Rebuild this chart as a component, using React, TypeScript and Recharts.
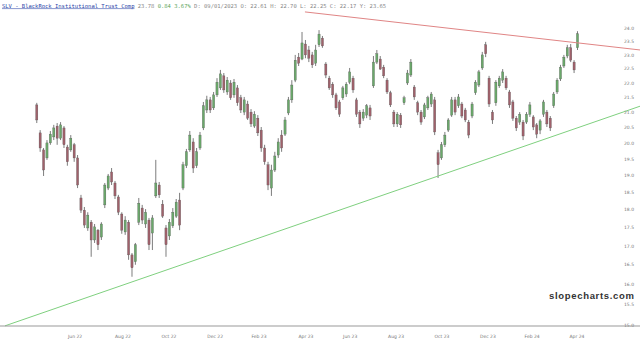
import { Bar, ComposedChart, ReferenceLine, XAxis, YAxis } from 'recharts'

// daily-ish candles, left to right
const opens = [
  21.25, 20.33, 19.79, 19.54, 20.01, 20.2, 20.55, 20.16, 20.49, 19.88,
  19.79, 19.95, 19.54, 18.34, 17.99, 17.49, 17.65, 17.16, 17.43, 17.24,
  18.14, 18.63, 19.11, 18.78, 18.37, 17.88, 17.38, 17.65, 16.76, 16.58,
  17.65, 18.05, 17.6, 17.71, 17.35, 18.4, 18.72, 18.16, 17.49, 17.27,
  17.55, 17.82, 18.28, 18.63, 19.3, 19.79, 20.04, 19.3, 19.85, 20.49,
  21.08, 21.42, 21.15, 21.59, 21.83, 22.25, 21.69, 22.0, 21.59, 21.83,
  21.49, 21.01, 21.28, 21.01, 20.55, 20.81, 20.42, 19.85, 19.33, 18.63,
  19.17, 19.63, 20.26, 20.29, 20.98, 21.42, 22.1, 22.92, 22.85, 23.4,
  23.18, 23.0, 22.7, 23.37, 23.62, 22.67, 22.17, 21.96, 21.59, 21.35,
  21.49, 21.62, 22.03, 22.17, 21.42, 21.01, 20.81, 20.91, 21.15, 21.9,
  22.74, 22.85, 22.56, 22.1, 21.66, 21.01, 20.62, 20.91, 21.32, 22.0,
  22.28, 21.86, 21.32, 21.01, 20.85, 21.15, 21.28, 21.42, 19.7, 19.54,
  19.95, 20.42, 20.91, 21.42, 21.22, 21.28, 21.08, 20.68, 20.88, 21.66,
  21.93, 22.53, 23.37, 22.17, 21.01, 21.32, 21.9, 22.1, 22.17, 21.69,
  21.35, 20.81, 20.68, 20.68, 20.68, 20.94, 20.85, 20.59, 20.42, 20.94,
  21.01, 20.81, 21.22, 21.69, 22.14, 22.6, 22.96, 23.26, 22.74, 23.26,
]
const highs = [
  21.32, 20.42, 19.85, 20.1, 20.39, 20.59, 20.65, 20.68, 20.55, 19.95,
  20.26, 20.01, 19.63, 18.43, 18.08, 17.93, 17.71, 17.6, 17.46, 17.65,
  18.78, 19.05, 19.23, 18.84, 18.43, 17.93, 17.82, 17.71, 16.81, 17.08,
  18.34, 18.14, 18.02, 17.77, 17.85, 19.48, 18.81, 18.28, 17.57, 17.74,
  18.05, 18.31, 18.49, 19.42, 19.82, 20.39, 20.16, 19.85, 20.36, 21.35,
  21.56, 21.52, 21.69, 22.17, 22.46, 22.35, 22.21, 22.1, 22.14, 21.93,
  21.59, 21.52, 21.39, 21.11, 21.04, 20.91, 20.52, 19.95, 19.42, 19.33,
  19.73, 20.16, 20.42, 20.85, 21.52, 22.1, 23.0, 23.07, 23.85, 23.55,
  23.33, 23.11, 23.37, 23.92, 23.7, 22.74, 22.25, 22.03, 21.66, 21.42,
  21.9, 22.03, 22.53, 22.25, 21.49, 21.08, 21.11, 21.28, 21.25, 22.96,
  23.18, 22.96, 22.64, 22.17, 21.73, 21.08, 21.01, 20.98, 21.56, 22.46,
  22.85, 21.93, 21.39, 21.08, 21.32, 21.56, 21.69, 21.52, 19.79, 20.04,
  20.36, 20.81, 21.52, 21.52, 21.62, 21.35, 21.15, 20.75, 21.35, 22.1,
  22.46, 23.11, 23.48, 22.25, 21.08, 22.1, 22.25, 22.49, 22.25, 21.76,
  21.42, 20.88, 21.01, 20.75, 21.01, 21.35, 20.91, 20.65, 20.78, 21.42,
  21.08, 20.88, 21.69, 22.17, 22.64, 23.0, 23.37, 23.4, 22.81, 23.88,
]
const lows = [
  20.65, 19.73, 18.99, 19.48, 19.95, 20.1, 19.95, 20.1, 19.85, 19.3,
  19.73, 19.42, 18.63, 17.91, 17.49, 17.41, 16.71, 17.08, 16.89, 17.16,
  18.05, 18.57, 18.72, 18.31, 17.85, 17.33, 17.3, 16.63, 16.19, 16.5,
  17.57, 17.6, 17.49, 16.89, 16.89, 18.34, 18.34, 17.77, 16.71, 17.16,
  17.49, 17.77, 17.43, 18.57, 19.23, 19.73, 19.08, 19.23, 19.79, 20.42,
  20.98, 20.98, 21.08, 21.52, 21.76, 21.66, 21.59, 21.42, 21.49, 21.22,
  20.98, 20.91, 20.75, 20.52, 20.49, 20.23, 19.73, 19.33, 18.57, 18.4,
  19.11, 19.54, 19.73, 20.23, 20.91, 21.32, 22.03, 22.6, 22.81, 22.88,
  22.74, 22.53, 22.6, 23.29, 23.26, 22.17, 21.76, 21.49, 21.08, 20.85,
  21.42, 21.52, 21.96, 21.66, 20.85, 20.49, 20.72, 20.81, 20.75, 21.83,
  22.67, 22.46, 22.17, 21.62, 21.18, 20.52, 20.52, 20.49, 21.25, 21.93,
  22.21, 21.42, 20.91, 20.59, 20.78, 21.08, 21.18, 20.26, 18.93, 19.48,
  19.88, 20.36, 20.85, 20.91, 21.15, 20.81, 20.68, 20.16, 20.81, 21.59,
  21.86, 22.46, 22.92, 21.18, 20.62, 21.22, 21.83, 22.0, 21.76, 21.15,
  20.72, 20.39, 20.59, 20.1, 20.62, 20.85, 20.42, 20.16, 20.29, 20.85,
  20.52, 20.39, 21.15, 21.62, 22.07, 22.53, 22.88, 22.74, 22.35, 23.18,
]
const closes = [
  20.75, 19.85, 19.17, 20.01, 20.29, 20.49, 20.16, 20.59, 19.95, 19.42,
  20.16, 19.54, 18.72, 17.99, 17.57, 17.85, 17.16, 17.52, 17.03, 17.6,
  18.72, 18.99, 18.81, 18.4, 17.93, 17.43, 17.71, 16.76, 16.42, 17.03,
  18.19, 17.71, 17.93, 17.03, 17.77, 18.78, 18.43, 17.82, 17.03, 17.65,
  17.93, 18.22, 17.57, 19.33, 19.73, 20.26, 19.23, 19.73, 20.26, 21.22,
  21.42, 21.08, 21.59, 22.03, 22.32, 21.76, 22.1, 21.49, 22.03, 21.32,
  21.08, 21.42, 20.81, 20.62, 20.94, 20.33, 19.85, 19.42, 18.72, 19.17,
  19.6, 20.04, 19.85, 20.75, 21.42, 21.93, 22.81, 22.7, 23.44, 23.0,
  22.88, 22.64, 23.18, 23.77, 23.33, 22.28, 21.83, 21.59, 21.15, 20.94,
  21.83, 21.96, 22.39, 21.76, 20.94, 20.62, 21.01, 21.22, 20.88, 22.74,
  23.04, 22.49, 22.25, 21.69, 21.25, 20.62, 20.94, 20.59, 21.49, 22.35,
  22.74, 21.52, 21.01, 20.68, 21.25, 21.49, 21.62, 20.36, 19.33, 19.95,
  20.26, 20.75, 21.42, 21.01, 21.52, 20.88, 20.75, 20.26, 21.28, 22.03,
  22.39, 23.0, 23.04, 21.28, 20.75, 22.03, 22.17, 22.39, 21.83, 21.25,
  20.81, 20.49, 20.94, 20.23, 20.94, 21.25, 20.52, 20.29, 20.72, 21.35,
  20.62, 20.49, 21.62, 22.1, 22.56, 22.92, 23.26, 22.81, 22.46, 23.78,
]

const monthTicks = [11.2, 25.3, 38.8, 52.4, 65.3, 79.1, 92.1, 105.6, 119.1, 132.6, 145.6, 158.8]
const monthLabels = ['Jun 22', 'Aug 22', 'Oct 22', 'Dec 22', 'Feb 23', 'Apr 23', 'Jun 23', 'Aug 23', 'Oct 23', 'Dec 23', 'Feb 24', 'Apr 24']
const priceTicks = [15, 15.5, 16, 16.5, 17, 17.5, 18, 18.5, 19, 19.5, 20, 20.5, 21, 21.5, 22, 22.5, 23, 23.5, 24]

// trendlines as (bar index, price) end points
const resistance = [{ i: 78.8, p: 24.62 }, { i: 177.4, p: 23.18 }]
const support = [{ i: -9.4, p: 14.98 }, { i: 177.4, p: 21.21 }]

const data = closes.map((c, i) => ({
  i,
  open: opens[i],
  high: highs[i],
  low: lows[i],
  close: c,
  range: [lows[i], highs[i]],
}))

function Candle(props: any) {
  const { x, y, width, height, payload } = props
  if (!payload || height == null) return null
  const { open, close, high, low } = payload
  const top = Math.min(y, y + height)
  const h = Math.abs(height)
  const k = h / (Math.log(high) - Math.log(low))
  const py = (v: number) => top + (Math.log(high) - Math.log(v)) * k
  const cx = x + width / 2
  const up = close >= open
  const bt = py(Math.max(open, close))
  const bb = py(Math.min(open, close))
  return (
    <g>
      <line x1={cx} x2={cx} y1={top} y2={top + h} stroke="#444" strokeWidth={0.7} />
      <rect
        x={cx - 1.1}
        y={bt}
        width={2.2}
        height={Math.max(bb - bt, 0.8)}
        fill={up ? '#6aa86a' : '#a0616b'}
        stroke="#555"
        strokeWidth={0.3}
      />
    </g>
  )
}

export default function App() {
  return (
    <div style={{ position: 'absolute', left: 0, top: 0, width: 640, height: 343, background: '#fff' }}>
      <ComposedChart width={640} height={343} data={data} margin={{ top: 15, right: 0, bottom: 0, left: 5 }}>
        <XAxis
          dataKey="i"
          type="number"
          domain={[-9.4, 168.5]}
          ticks={monthTicks}
          interval={0}
          tickFormatter={(v: number) => monthLabels[monthTicks.indexOf(v)] ?? ''}
          axisLine={false}
          tickLine={false}
          tickMargin={4}
          height={18}
          allowDataOverflow
          tick={{ fontSize: 4.5, fill: '#777', fontFamily: 'DejaVu Sans' }}
        />
        <YAxis
          orientation="right"
          type="number"
          scale="log"
          domain={[15, 24.5]}
          ticks={priceTicks}
          interval={0}
          tickFormatter={(v: number) => v.toFixed(1)}
          axisLine={false}
          tickLine={false}
          tickMargin={8}
          width={30}
          allowDataOverflow
          tick={{ fontSize: 4.5, fill: '#777', fontFamily: 'DejaVu Sans' }}
        />
        <Bar dataKey="range" barSize={3} shape={<Candle />} isAnimationActive={false} />
        <ReferenceLine
          segment={[{ x: resistance[0].i, y: resistance[0].p }, { x: resistance[1].i, y: resistance[1].p }]}
          stroke="#e08585"
          strokeWidth={1}
          ifOverflow="visible"
        />
        <ReferenceLine
          segment={[{ x: support[0].i, y: support[0].p }, { x: support[1].i, y: support[1].p }]}
          stroke="#7fd07f"
          strokeWidth={1}
          ifOverflow="visible"
        />
      </ComposedChart>
      <svg width={640} height={343} style={{ position: 'absolute', left: 0, top: 0, pointerEvents: 'none' }}>
        <line x1={0} x2={640} y1={326} y2={326} stroke="#999" strokeWidth={1} />
        <text x={2} y={7.5} fontFamily="DejaVu Sans Mono" fontSize={5.5} fill="#888">
          <tspan fill="#2b45a8" textDecoration="underline">SLV - BlackRock Institutional Trust Comp</tspan>
          <tspan> 23.78 </tspan>
          <tspan fill="#5aa55a">0.84 3.67%</tspan>
          <tspan> D: 09/01/2023 O: 22.61 H: 22.70 L: 22.25 C: 22.17 Y: 23.65</tspan>
        </text>
        <text x={549} y={299} fontFamily="Liberation Sans" fontWeight="bold" fontSize={9.5} fill="#333" textLength={85}>
          slopecharts.com
        </text>
      </svg>
    </div>
  )
}
